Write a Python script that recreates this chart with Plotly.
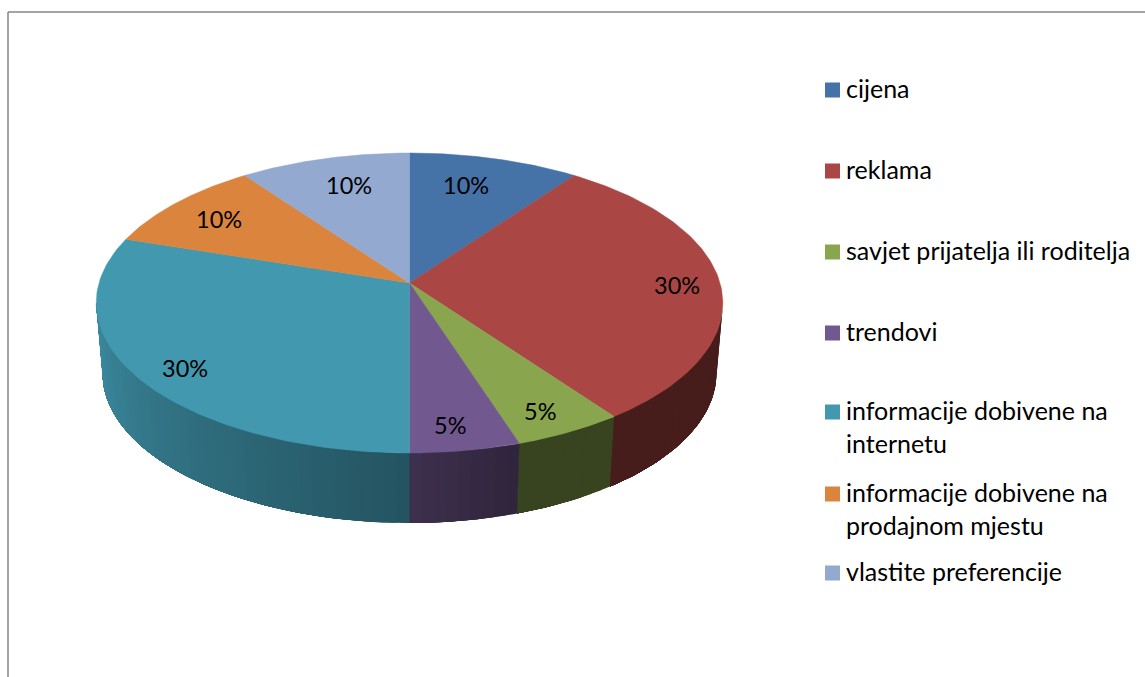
import numpy as np
import plotly.graph_objects as go

categories = ["cijena", "reklama", "savjet prijatelja ili roditelja", "trendovi",
              "informacije dobivene na internetu", "informacije dobivene na prodajnom mjestu",
              "vlastite preferencije"]
legend_text = ["cijena", "reklama", "savjet prijatelja ili roditelja", "trendovi",
               "informacije dobivene na<br>internetu", "informacije dobivene na<br>prodajnom mjestu",
               "vlastite preferencije"]
values = [10, 30, 5, 5, 30, 10, 10]
colors = ["#4572A7", "#AA4643", "#89A54E", "#71588F", "#4198AF", "#DB843D", "#93A9CF"]

# layout, in page pixels (the axes span the page)
CX, CY, A, B, K = 409.5, 283, 310.5, 147.3, 0.1333
DEPTH, SHRINK = 70, 0.98
label_pos = [(466, 185), (677, 285), (540, 411), (450, 425), (185, 368), (219, 219), (349, 185)]
legend_y = [90, 171, 252, 333, 412, 494, 573]
text_y = [88, 169, 250, 331, 426, 508, 571]


def project(deg, bottom=False):
    t = np.radians(deg)
    u, v = np.sin(t), np.cos(t)
    w = 1 + K * v
    x, y = A * u / w, -B * v / w
    if bottom:
        return CX + x * SHRINK, CY + y + DEPTH
    return CX + x, CY + y


def shade(hexcol, deg):
    if deg <= 162:
        f = 0.41
    elif deg <= 180:
        f = 0.41 + (deg - 162) / 18 * 0.14
    else:
        f = 0.55 + (deg - 180) / 82 * 0.37
    r, g, b = (int(hexcol[i:i + 2], 16) for i in (1, 3, 5))
    return f"rgb({r * f:.0f},{g * f:.0f},{b * f:.0f})"


fig = go.Figure()
edges = np.concatenate([[0], np.cumsum(values)]) / sum(values) * 360

# side wall: each band runs to the end of its slice and the next one paints over it, so no seams show
for i, col in enumerate(colors):
    a0, a1 = max(edges[i], 97.7), min(edges[i + 1], 262.3)
    if a1 <= a0:
        continue
    n = max(1, int((a1 - a0) / 2))
    steps = np.linspace(a0, a1, n + 1)
    for s0, s1 in zip(steps[:-1], steps[1:]):
        ts = np.linspace(s0, a1, max(4, int(a1 - s0) + 2))
        tx, ty = project(ts)
        bx, by = project(ts[::-1], bottom=True)
        c = shade(col, (s0 + s1) / 2)
        fig.add_trace(go.Scatter(x=np.r_[tx, bx, tx[0]], y=np.r_[ty, by, ty[0]], mode="lines",
                                 fill="toself", fillcolor=c, line=dict(color=c, width=0),
                                 hoverinfo="skip", showlegend=False))

# top face
for i, col in enumerate(colors):
    ts = np.linspace(edges[i], edges[i + 1], 100)
    x, y = project(ts)
    fig.add_trace(go.Scatter(x=np.r_[CX, x, CX], y=np.r_[CY, y, CY], mode="lines", name=categories[i],
                             fill="toself", fillcolor=col, line=dict(color=col, width=0.5),
                             showlegend=False))

# legend swatches
for i, col in enumerate(colors):
    fig.add_trace(go.Scatter(x=[832.5], y=[legend_y[i]], mode="markers", name=categories[i],
                             marker=dict(symbol="square", size=15, color=col),
                             hoverinfo="skip", showlegend=False))

FONT = "Lato"
ann = []
for i, v in enumerate(values):
    ann.append(dict(x=label_pos[i][0], y=label_pos[i][1], text=f"{v / sum(values):.0%}", showarrow=False,
                    font=dict(family=FONT, size=23.5, color="#000000")))
    ann.append(dict(x=844, y=text_y[i], text=legend_text[i], showarrow=False, xanchor="left", align="left",
                    font=dict(family=FONT, size=25, color="#000000")))

shapes = [dict(type="line", x0=8, x1=1145, y0=12, y1=12, line=dict(color="#868686", width=1.5)),
          dict(type="line", x0=8, x1=8, y0=12, y1=677, line=dict(color="#868686", width=1.5))]

fig.update_layout(
    width=1145, height=677, margin=dict(l=0, r=0, t=0, b=0),
    paper_bgcolor="white", plot_bgcolor="white", showlegend=False,
    xaxis=dict(range=[0, 1145], visible=False, fixedrange=True),
    yaxis=dict(range=[677, 0], visible=False, fixedrange=True),
    annotations=ann, shapes=shapes,
)
fig.write_html("out.html", config=dict(displayModeBar=False),
               post_script="document.body.style.margin='0';document.body.style.overflow='hidden';")
